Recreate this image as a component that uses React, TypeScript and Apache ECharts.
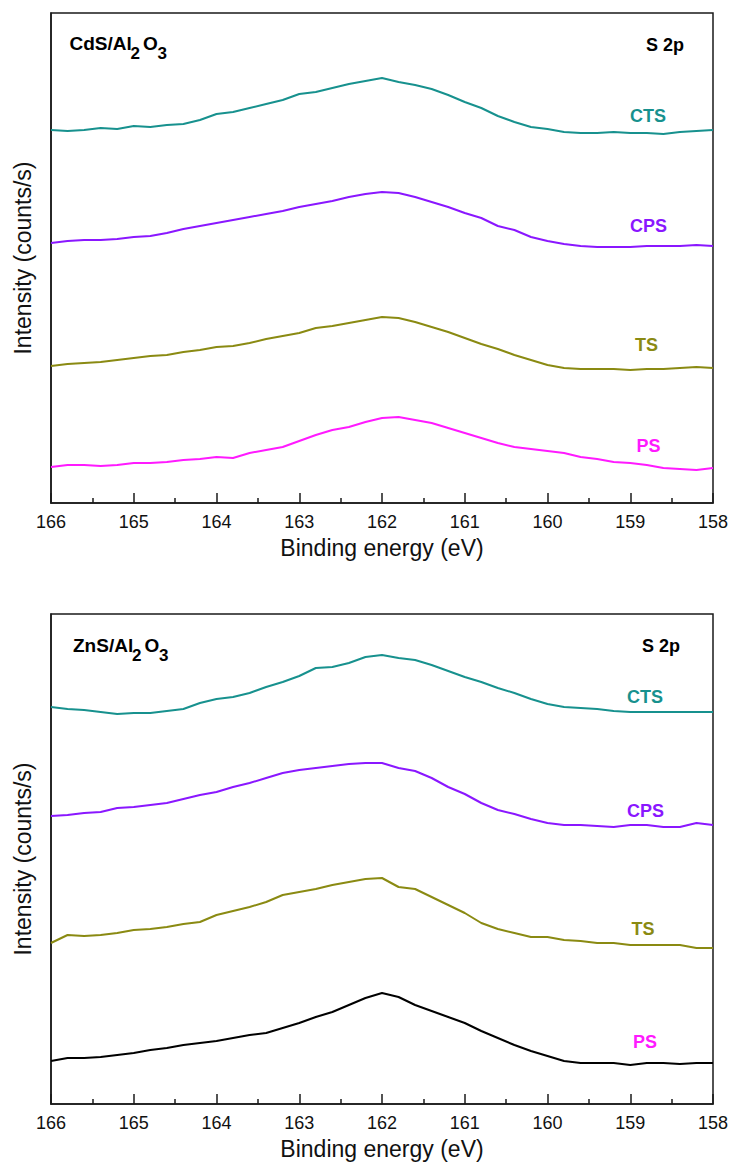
import React, { useEffect, useRef } from "react";
import * as echarts from "echarts";

const energies = [166, 165.8, 165.6, 165.4, 165.2, 165, 164.8, 164.6, 164.4, 164.2, 164, 163.8, 163.6, 163.4, 163.2, 163, 162.8, 162.6, 162.4, 162.2, 162, 161.8, 161.6, 161.4, 161.2, 161, 160.8, 160.6, 160.4, 160.2, 160, 159.8, 159.6, 159.4, 159.2, 159, 158.8, 158.6, 158.4, 158.2, 158];
const xTicks = [158, 159, 160, 161, 162, 163, 164, 165, 166];

// CdS/Al2O3 panel (arbitrary intensity units, offset traces)
const cdsCTS = [373, 372, 373, 375, 374, 377, 376, 378, 379, 383, 389, 391, 395, 399, 403, 409, 411, 415, 419, 422, 425, 421, 418, 414, 408, 401, 395, 387, 381, 376, 374, 371, 370, 370, 371, 370, 370, 369, 371, 372, 373];
const cdsCPS = [260, 262, 263, 263, 264, 266, 267, 270, 274, 277, 280, 283, 286, 289, 292, 296, 299, 302, 306, 309, 311, 310, 306, 301, 296, 290, 285, 277, 273, 266, 262, 259, 257, 256, 256, 256, 257, 257, 257, 258, 257];
const cdsTS = [137, 139, 140, 141, 143, 145, 147, 148, 151, 153, 156, 157, 160, 164, 167, 170, 175, 177, 180, 183, 186, 185, 181, 176, 171, 165, 159, 154, 148, 143, 138, 135, 134, 134, 134, 133, 134, 134, 135, 136, 135];
const cdsPS = [36, 38, 38, 37, 38, 40, 40, 41, 43, 44, 46, 45, 50, 53, 56, 62, 68, 73, 76, 81, 85, 86, 83, 80, 75, 70, 65, 60, 56, 54, 52, 50, 46, 44, 41, 40, 38, 35, 34, 33, 35];

// ZnS/Al2O3 panel
const znsCTS = [397, 395, 394, 392, 390, 391, 391, 393, 395, 401, 405, 407, 411, 417, 422, 428, 436, 437, 441, 447, 449, 446, 444, 439, 433, 427, 422, 416, 411, 405, 400, 397, 396, 395, 393, 392, 392, 392, 392, 392, 392];
const znsCPS = [288, 289, 291, 292, 296, 297, 299, 301, 305, 309, 312, 317, 321, 326, 331, 334, 336, 338, 340, 341, 341, 336, 333, 326, 317, 310, 301, 294, 290, 285, 281, 279, 279, 278, 277, 279, 279, 277, 277, 281, 279];
const znsTS = [161, 169, 168, 169, 171, 174, 175, 177, 180, 182, 189, 193, 197, 202, 209, 212, 215, 219, 222, 225, 226, 217, 215, 207, 199, 191, 181, 175, 171, 167, 167, 164, 163, 161, 161, 159, 159, 159, 159, 156, 156];
const znsPS = [43, 46, 46, 47, 49, 51, 54, 56, 59, 61, 63, 66, 69, 71, 76, 81, 87, 92, 99, 106, 111, 107, 99, 93, 87, 81, 73, 66, 59, 53, 48, 43, 41, 41, 41, 39, 41, 41, 40, 41, 41];

const seriesNames = ["CTS", "CPS", "TS", "PS"];

const C_TEAL = "#17918e";
const C_VIOLET = "#8a17ff";
const C_OLIVE = "#8a8a12";
const C_MAGENTA = "#ff1aff";
const C_BLACK = "#000000";

const FONT = 'Arial, "Liberation Sans", sans-serif';

export default function App() {
  const ref = useRef<HTMLDivElement>(null);

  useEffect(() => {
    if (!ref.current) return;
    const chart = echarts.init(ref.current, undefined, { renderer: "svg" });

    const pair = (vals: number[]) => energies.map((e, i) => [e, vals[i]]);

    const grids = [
      { left: 51, top: 13, width: 662, height: 490 },
      { left: 51, top: 614, width: 662, height: 490 },
    ].map((g) => ({ ...g, show: true, borderColor: "#1a1a1a", borderWidth: 1.5, backgroundColor: "transparent" }));

    const xAxisBase = (gi: number) => ({
      type: "value" as const,
      gridIndex: gi,
      min: 158,
      max: 166,
      interval: 1,
      inverse: true,
      name: "Binding energy (eV)",
      nameLocation: "middle" as const,
      nameGap: 33,
      nameTextStyle: { fontSize: 23, color: "#111", fontFamily: FONT },
      axisLine: { show: true, onZero: false, lineStyle: { color: "#1a1a1a", width: 1.5 } },
      axisTick: { show: true, inside: true, length: 10, lineStyle: { color: "#1a1a1a", width: 1.5 } },
      minorTick: { show: true, splitNumber: 2, length: 5, lineStyle: { color: "#1a1a1a", width: 1.5 } },
      axisLabel: {
        fontSize: 18,
        color: "#111",
        fontFamily: FONT,
        margin: 10,
        formatter: (v: number) => (xTicks.includes(v) ? String(v) : ""),
      },
      splitLine: { show: false },
    });

    const yAxisBase = (gi: number) => ({
      type: "value" as const,
      gridIndex: gi,
      min: 0,
      max: 490,
      name: "Intensity (counts/s)",
      nameLocation: "middle" as const,
      nameGap: 17,
      nameRotate: 90,
      nameTextStyle: { fontSize: 23, color: "#111", fontFamily: FONT },
      axisLine: { show: true, lineStyle: { color: "#1a1a1a", width: 1.5 } },
      axisTick: { show: false },
      axisLabel: { show: false },
      splitLine: { show: false },
    });

    const line = (name: string, vals: number[], color: string, gi: number) => ({
      type: "line" as const,
      name,
      xAxisIndex: gi,
      yAxisIndex: gi,
      data: pair(vals),
      showSymbol: false,
      symbol: "none",
      lineStyle: { color, width: 2 },
      itemStyle: { color },
    });

    const txt = (text: string, x: number, y: number, fill: string, size = 18, align: any = "center") => ({
      type: "text",
      x,
      y,
      style: {
        text,
        fill,
        font: `bold ${size}px ${FONT}`,
        textAlign: align,
        textVerticalAlign: "middle",
      },
    });

    chart.setOption({
      animation: false,
      backgroundColor: "#ffffff",
      grid: grids,
      xAxis: [xAxisBase(0), xAxisBase(1)],
      yAxis: [yAxisBase(0), yAxisBase(1)],
      series: [
        line(seriesNames[0], cdsCTS, C_TEAL, 0),
        line(seriesNames[1], cdsCPS, C_VIOLET, 0),
        line(seriesNames[2], cdsTS, C_OLIVE, 0),
        line(seriesNames[3], cdsPS, C_MAGENTA, 0),
        line(seriesNames[0], znsCTS, C_TEAL, 1),
        line(seriesNames[1], znsCPS, C_VIOLET, 1),
        line(seriesNames[2], znsTS, C_OLIVE, 1),
        line(seriesNames[3], znsPS, C_BLACK, 1),
      ],
      graphic: [
        // top panel titles
        txt("CdS/Al", 69.5, 43.5, "#000", 19, "left"),
        txt("2", 130.5, 53.5, "#000", 17, "left"),
        txt("O", 143, 43.5, "#000", 19, "left"),
        txt("3", 157.5, 53.5, "#000", 17, "left"),
        txt("S 2p", 665, 45, "#000"),
        txt("CTS", 648, 115.5, C_TEAL),
        txt("CPS", 648.5, 226, C_VIOLET),
        txt("TS", 646.5, 345, C_OLIVE),
        txt("PS", 648.5, 446, C_MAGENTA),
        // bottom panel titles
        txt("ZnS/Al", 73, 645, "#000", 19, "left"),
        txt("2", 132, 655, "#000", 17, "left"),
        txt("O", 144.5, 645, "#000", 19, "left"),
        txt("3", 159, 655, "#000", 17, "left"),
        txt("S 2p", 661, 646, "#000"),
        txt("CTS", 645, 697, C_TEAL),
        txt("CPS", 645.5, 811, C_VIOLET),
        txt("TS", 643, 929, C_OLIVE),
        txt("PS", 645, 1042, C_MAGENTA),
      ],
    });

    return () => chart.dispose();
  }, []);

  return (
    <div
      ref={ref}
      style={{ position: "absolute", left: 0, top: 0, width: 734, height: 1166, background: "#fff" }}
    />
  );
}
